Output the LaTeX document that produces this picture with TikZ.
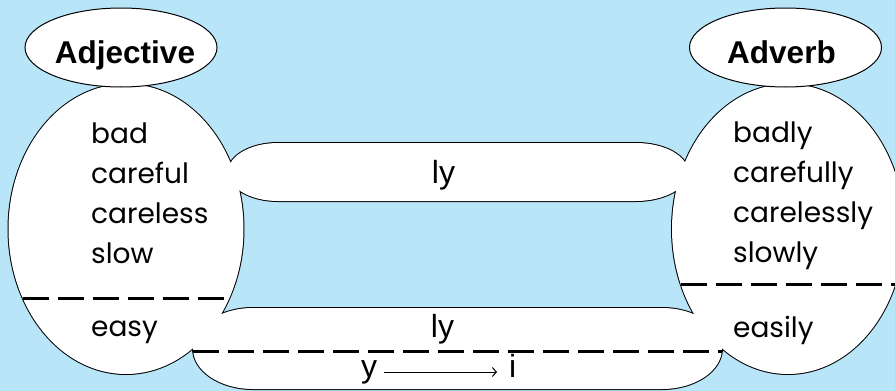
\documentclass[tikz,border=0pt]{standalone}
\usepackage{fontspec}
\setmainfont{Liberation Sans}
\newfontfamily\bodyfont{Poppins}
\usetikzlibrary{shapes.geometric,arrows.meta}
\definecolor{bgblue}{RGB}{185,229,249}
\newcommand{\bandupper}{(278,143) -- (636,143) .. controls (664.7,143) and (688,156) .. (688,172) .. controls (688,188) and (664.7,201) .. (636,201) -- (278,201) .. controls (250.4,201) and (228,188) .. (228,172) .. controls (228,156) and (250.4,143) .. (278,143) -- cycle}
\newcommand{\bandlower}{(253,308) -- (662,308) .. controls (695.1,308) and (722,326.1) .. (722,348.5) .. controls (722,370.9) and (695.1,389) .. (662,389) -- (253,389) .. controls (219.9,389) and (193,370.9) .. (193,348.5) .. controls (193,326.1) and (219.9,308) .. (253,308) -- cycle}
\begin{document}
\begin{tikzpicture}[x=1pt,y=-1pt,
  shapeout/.style={draw=black,line width=2pt,fill=white},
  shapein/.style={fill=white},
  divider/.style={draw=black,line width=3pt,dash pattern=on 26pt off 9pt},
  word/.style={font=\bodyfont\fontsize{28}{32}\selectfont,inner sep=0pt,anchor=base west},
  head/.style={font=\bfseries\fontsize{31.5}{36}\selectfont,inner sep=0pt,anchor=base},
  suffix/.style={font=\fontsize{32}{36}\selectfont,inner sep=0pt},
  tag/.style={ellipse,draw=black,line width=1pt,fill=white,minimum width=192pt,minimum height=79pt,inner sep=0pt},
  rule/.style={draw=black,line width=1pt,-{Straight Barb[length=4pt,width=9pt]}}]
\useasboundingbox (0,0) rectangle (895,391);
\clip (0,0) rectangle (895,391);
\fill[bgblue] (0,0) rectangle (895,391);
% union of white shapes: outlines first, then interiors
\path[shapeout] (126,229) ellipse [x radius=117.5pt, y radius=145pt];
\path[shapeout] (788,229) ellipse [x radius=116pt, y radius=145pt];
\path[shapeout] \bandupper;
\path[shapeout] \bandlower;
\path[shapein] (126,229) ellipse [x radius=117.5pt, y radius=145pt];
\path[shapein] (788,229) ellipse [x radius=116pt, y radius=145pt];
\path[shapein] \bandupper;
\path[shapein] \bandlower;
% dividers
\coordinate (dl1) at (22.7,298);
\coordinate (dl2) at (229.3,298);
\coordinate (dr1) at (680.7,284);
\coordinate (dr2) at (895,284);
\coordinate (db1) at (193,351);
\coordinate (db2) at (722,351);
\draw[divider] (dl1) -- (dl2);
\draw[divider] (dr1) -- (dr2);
\draw[divider] (db1) -- (db2);
% words
\node[word] (w1) at (91,143) {bad};
\node[word] (w2) at (91,183) {careful};
\node[word] (w3) at (91,223) {careless};
\node[word] (w4) at (91,263) {slow};
\node[word] (w5) at (91,336) {easy};
\node[word] (v1) at (733,142) {badly};
\node[word] (v2) at (733,182) {carefully};
\node[word] (v3) at (733,222) {carelessly};
\node[word] (v4) at (733,262) {slowly};
\node[word] (v5) at (733,337) {easily};
% suffixes
\node[suffix,anchor=base] (ly1) at (443.5,183) {ly};
\node[suffix,anchor=base] (ly2) at (442.5,337) {ly};
\node[suffix,anchor=base west] (yy) at (361,377) {y};
\node[suffix,anchor=base west] (ii) at (509,377) {i};
\draw[rule] ([xshift=7pt,yshift=5pt]yy.base east) -- ([xshift=-12pt,yshift=5pt]ii.base west);
% headings
\node[tag] (adjbox) at (121,47.5) {};
\node[tag] (advbox) at (785.5,47.5) {};
\node[head] (adj) at (125,63) {Adjective};
\node[head] (adv) at (781.5,63) {Adverb};
\end{tikzpicture}
\end{document}
